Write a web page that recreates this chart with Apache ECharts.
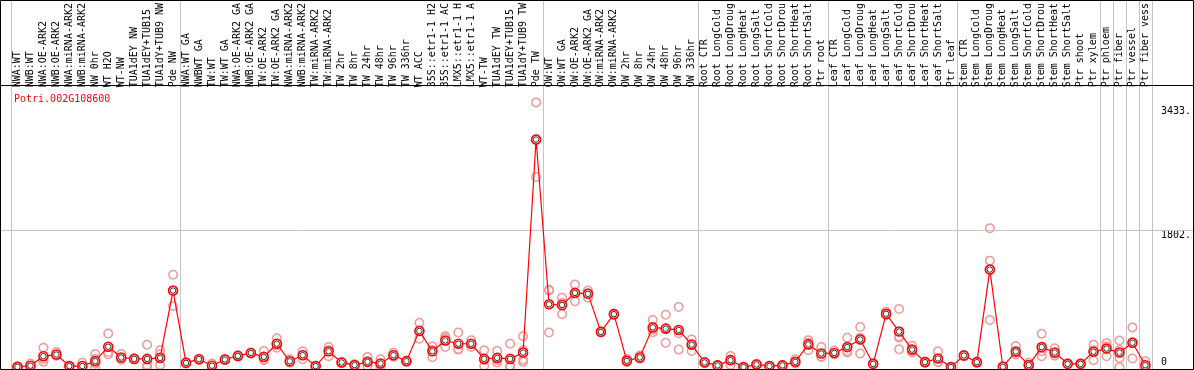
<!DOCTYPE html>
<html>
<head>
<meta charset="utf-8">
<script src="https://cdn.jsdelivr.net/npm/echarts@6/dist/echarts.min.js"></script>
<style>
html,body{margin:0;padding:0;background:#fff;}
#c{width:1194px;height:370px;}
</style>
</head>
<body>
<div id="c"></div>
<script>
const geneName = 'Potri.002G108600';
const categories = [
'NWA:WT','NWB:WT','NWA:OE-ARK2','NWB:OE-ARK2','NWA:miRNA-ARK2','NWB:miRNA-ARK2','NW 0hr','WT H2O','WT-NW','TUA1dEY NW','TUA1dEY+TUB15','TUA1dY+TUB9 NW','Pde NW',
'NWA:WT GA','NWBWT GA','TW:WT','TW:WT GA','NWA:OE-ARK2 GA','NWB:OE-ARK2 GA','TW:OE-ARK2','TW:OE-ARK2 GA','NWA:miRNA-ARK2','NWB:miRNA-ARK2','TW:miRNA-ARK2','TW:miRNA-ARK2','TW 2hr','TW 8hr','TW 24hr','TW 48hr','TW 96hr','TW 336hr','WT ACC','35S::etr1-1 H2','35S::etr1-1 AC','LMX5::etr1-1 H','LMX5::etr1-1 A','WT-TW','TUA1dEY TW','TUA1dEY+TUB15','TUA1dY+TUB9 TW','Pde TW',
'OW:WT','OW:WT GA','OW:OE-ARK2','OW:OE-ARK2 GA','OW:miRNA-ARK2','OW:miRNA-ARK2','OW 2hr','OW 8hr','OW 24hr','OW 48hr','OW 96hr','OW 336hr',
'Root CTR','Root LongCold','Root LongDroug','Root LongHeat','Root LongSalt','Root ShortCold','Root ShortDrou','Root ShortHeat','Root ShortSalt','Ptr root',
'Leaf CTR','Leaf LongCold','Leaf LongDroug','Leaf LongHeat','Leaf LongSalt','Leaf ShortCold','Leaf ShortDrou','Leaf ShortHeat','Leaf ShortSalt','Ptr leaf',
'Stem CTR','Stem LongCold','Stem LongDroug','Stem LongHeat','Stem LongSalt','Stem ShortCold','Stem ShortDrou','Stem ShortHeat','Stem ShortSalt','Ptr shoot',
'Ptr xylem','Ptr phloem','Ptr fiber','Ptr vessel','Ptr fiber vess'
];
// boundaries (category index where a separator line is drawn on its left edge; 88 = right end)
const separators = [0, 13, 41, 53, 63, 73, 84, 85, 86, 87, 88];

const meanValues = [
5,20,145,167,15,16,80,270,128,110,110,123,1008,
58,106,20,102,149,188,136,309,78,158,15,210,63,28,71,50,158,80,478,210,352,309,309,110,123,110,193,2993,
827,818,977,965,465,698,84,128,524,507,490,296,
63,24,93,2,37,15,24,71,300,180,
188,265,365,45,702,469,232,67,115,2,
154,67,1284,6,206,28,265,193,45,45,
204,245,193,322,26
];
const rep1 = [
10,50,257,200,15,58,175,443,175,110,296,223,1215,
58,106,50,102,149,188,214,382,106,210,15,265,63,40,136,106,190,80,585,274,408,456,356,223,214,309,408,3481,
1008,913,1086,1008,465,698,110,155,620,689,792,365,
63,24,149,2,37,15,24,106,356,265,
220,387,529,45,731,766,283,67,210,2,
154,67,1828,6,278,60,439,250,45,45,
296,317,352,524,80
];
const rep2 = [
0,5,71,150,10,0,3,171,100,105,3,28,805,
50,100,5,95,140,180,93,257,60,106,10,145,55,20,12,3,140,75,374,132,265,232,265,15,63,0,71,2501,
456,698,866,913,460,690,70,110,460,322,232,214,
58,20,30,0,30,10,20,50,223,136,
170,214,180,40,690,236,195,60,70,0,
165,60,1401,3,170,10,145,150,40,40,
93,145,0,115,0
];
const rep3 = [
5,10,110,155,20,5,45,200,110,115,30,118,1005,
66,112,5,108,155,195,100,290,70,158,20,220,70,25,65,40,145,85,475,225,383,240,306,92,92,20,100,2997,
1017,843,979,974,470,705,72,120,492,510,446,309,
68,28,100,4,44,20,28,57,321,139,
174,194,386,50,685,405,218,74,65,4,
143,74,620,9,170,14,211,179,50,50,
223,273,227,327,0
];
const rep4 = [
null,null,null,null,null,null,110,null,null,null,null,170,null,
null,null,null,null,null,null,null,null,null,null,null,null,null,null,null,null,null,null,null,null,null,null,null,null,null,null,223,null,
null,null,null,null,null,null,null,null,null,null,null,null,
null,null,null,null,null,null,null,null,null,null,
null,null,null,null,null,387,null,null,null,null,
null,null,null,null,null,null,null,null,null,null,
null,null,120,null,null
];

const mono = 'DejaVu Sans Mono';
const repColor = '#f09a9a';

function repSeries(arr) {
  return {
    type: 'scatter',
    data: arr.map((v, i) => v == null ? null : [i, v]).filter(d => d),
    symbol: 'circle',
    symbolSize: 8.5,
    itemStyle: { color: 'rgba(255,255,255,0)', borderColor: repColor, borderWidth: 1.5, opacity: 1 },
    z: 2,
    silent: true
  };
}

const chart = echarts.init(document.getElementById('c'), null, { renderer: 'canvas' });
chart.setOption({
  animation: false,
  backgroundColor: '#fff',
  title: {
    text: geneName,
    left: 9, top: 89,
    textStyle: { color: '#ff0000', fontFamily: mono, fontSize: 10, fontWeight: 'normal' }
  },
  grid: { left: 11, right: 39, top: 86, bottom: 1 },
  xAxis: {
    type: 'category',
    position: 'top',
    data: categories,
    boundaryGap: true,
    axisLine: { show: false },
    axisTick: { show: false },
    splitLine: { show: false },
    axisLabel: {
      interval: 0, rotate: 90, margin: 3,
      fontFamily: mono, fontSize: 10, color: '#000'
    }
  },
  yAxis: [{
    type: 'value', position: 'right', min: -23, max: 3640,
    axisLine: { show: false }, axisTick: { show: false }, splitLine: { show: false },
    axisLabel: {
      customValues: [1802, 3433], verticalAlign: 'top', align: 'left', margin: 9,
      fontFamily: mono, fontSize: 10, color: '#000', lineHeight: 10,
      formatter: v => Math.round(v) + '.'
    }
  }, {
    type: 'value', position: 'right', min: -23, max: 3640,
    axisLine: { show: false }, axisTick: { show: false }, splitLine: { show: false },
    axisLabel: {
      customValues: [0], verticalAlign: 'bottom', align: 'left', margin: 9,
      fontFamily: mono, fontSize: 10, color: '#000', lineHeight: 10,
      formatter: v => String(Math.round(v))
    }
  }],
  series: [
    repSeries(rep1), repSeries(rep2), repSeries(rep3), repSeries(rep4),
    {
      type: 'line',
      data: meanValues,
      symbol: 'circle',
      symbolSize: 9,
      showAllSymbol: true,
      lineStyle: { color: '#ff0000', width: 1.2 },
      itemStyle: { color: '#fff', borderColor: '#ff0000', borderWidth: 1.6 },
      z: 4,
      silent: true
    },
    {
      type: 'scatter',
      data: meanValues.map((v, i) => [i, v]),
      symbol: 'circle',
      symbolSize: 5.5,
      itemStyle: { color: 'rgba(0,0,0,0)', borderColor: '#000', borderWidth: 1 },
      z: 5,
      silent: true
    }
  ]
});

// separators, gridline and frame computed from the axes
const c0 = chart.convertToPixel({ xAxisIndex: 0 }, 0);
const c1 = chart.convertToPixel({ xAxisIndex: 0 }, 1);
const half = (c1 - c0) / 2;
const W = 1194, H = 370;
const yTop = 86;
const y1802 = chart.convertToPixel({ yAxisIndex: 0 }, 1802);
const graphics = [];
separators.forEach(s => {
  const x = Math.round(chart.convertToPixel({ xAxisIndex: 0 }, Math.min(s, categories.length - 1)) + (s >= categories.length ? half : -half)) + 0.5;
  graphics.push({ type: 'line', shape: { x1: x, y1: 0, x2: x, y2: H }, style: { stroke: '#c4c4c4', lineWidth: 1 }, z: 1, silent: true });
});
graphics.push({ type: 'line', shape: { x1: 0, y1: Math.round(y1802) + 0.5, x2: W, y2: Math.round(y1802) + 0.5 }, style: { stroke: '#c4c4c4', lineWidth: 1 }, z: 1, silent: true });
graphics.push({ type: 'line', shape: { x1: 0, y1: yTop - 0.5, x2: W, y2: yTop - 0.5 }, style: { stroke: '#000', lineWidth: 1 }, z: 10, silent: true });
graphics.push({ type: 'rect', shape: { x: 0.5, y: 0.5, width: W - 1, height: 369 }, style: { fill: null, stroke: '#000', lineWidth: 1 }, z: 10, silent: true });
chart.setOption({ graphic: graphics });
</script>
</body>
</html>
